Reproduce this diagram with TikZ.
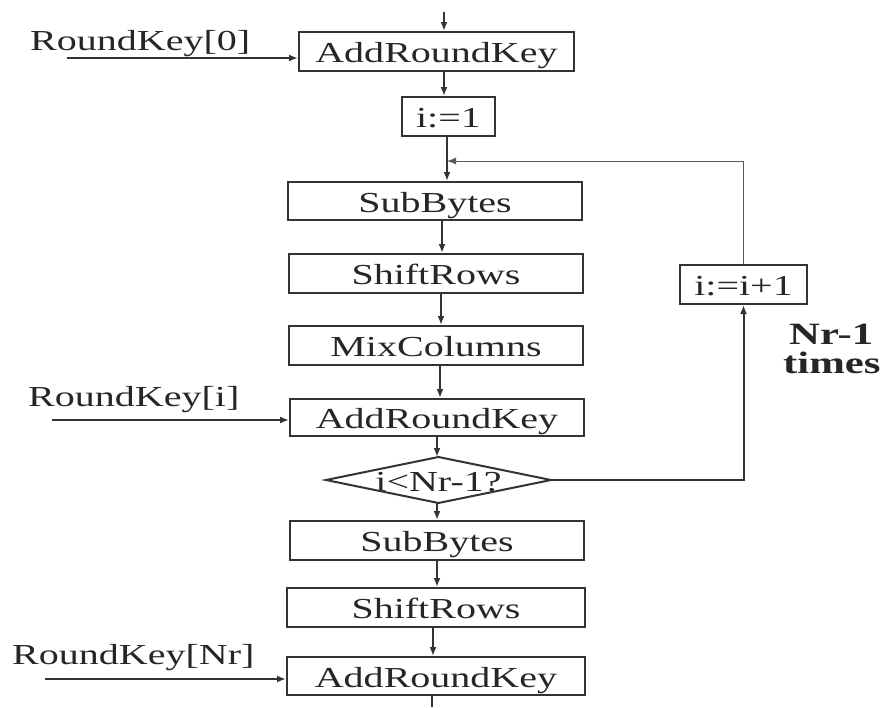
\documentclass[tikz,border=0pt]{standalone}
\usepackage{fontspec}
\setmainfont{Liberation Serif}[FakeStretch=1.38]
\usetikzlibrary{arrows.meta,positioning}

\tikzset{
  stage/.style={draw=black!80, line width=2pt, minimum width=294pt,
    minimum height=38pt, inner sep=0pt, text=black!85,
    text height=22pt, text depth=0pt,
    font=\fontsize{29}{31}\selectfont},
  flow/.style={draw=black!80, line width=2pt,
    -{Latex[length=9pt,width=7pt]}},
  back/.style={draw=black!65, line width=1pt,
    -{Latex[length=9pt,width=7pt]}},
  keytext/.style={anchor=base west, inner sep=0pt, text=black!85,
    font=\fontsize{29}{31}\selectfont}
}

\begin{document}
\begin{tikzpicture}[x=1pt,y=-1pt]
  \useasboundingbox (0,0) rectangle (885,707);

  % main column
  \node[stage, minimum width=275pt, minimum height=39pt] (ark0) at (436.5,51.5) {AddRoundKey};
  \node[stage, minimum width=93pt, minimum height=39pt] (init) at (448.5,116.5) {i:=1};
  \node[stage] (sb1) at (435,201) {SubBytes};
  \node[stage, minimum height=39pt] (sr1) at (436,273.5) {ShiftRows};
  \node[stage, minimum height=39pt] (mc) at (436,345.5) {MixColumns};
  \node[stage, minimum height=37pt] (ark1) at (437,417.5) {AddRoundKey};
  \node[stage, draw=none, minimum width=223pt, minimum height=44pt] (dia) at (438.5,480) {i<Nr-1?};
  \draw[draw=black!80, line width=2pt, line join=miter]
       (dia.west) -- (dia.north) -- (dia.east) -- (dia.south) -- cycle;
  \node[stage, minimum height=39pt] (sb2) at (437,540.5) {SubBytes};
  \node[stage, minimum width=298pt, minimum height=39pt] (sr2) at (436,607.5) {ShiftRows};
  \node[stage, minimum width=298pt] (ark2) at (436,676) {AddRoundKey};

  % loop counter
  \node[stage, minimum width=127pt, minimum height=39pt] (inc) at (743.5,284.5) {i:=i+1};
  \node[anchor=base west, inner sep=0pt, text=black!85,
        font=\bfseries\fontsize{31}{33}\selectfont] (nr) at (789,344) {Nr-1};
  \node[anchor=base west, inner sep=0pt, text=black!85,
        font=\bfseries\fontsize{31}{33}\selectfont] (times) at (783,373) {times};

  % round keys
  \node[keytext] (rk0) at (30,50) {RoundKey[0]};
  \node[keytext] (rki) at (28,406) {RoundKey[i]};
  \node[keytext] (rknr) at (12,664) {RoundKey[Nr]};
  \coordinate (k0) at (67,58);
  \coordinate (ki) at (52,420);
  \coordinate (knr) at (45,679);
  \draw[flow] (k0) -- (k0 -| ark0.west);
  \draw[flow] (ki) -- (ki -| ark1.west);
  \draw[flow] (knr) -- (knr -| ark2.west);

  % arrows down the column
  \coordinate (start) at (444,12);
  \coordinate (join) at (447,161);
  \coordinate (finish) at (432,707);
  \draw[flow] (start) -- (start |- ark0.north);
  \draw[flow] (ark0.south -| start) -- (init.north -| start);
  \draw[flow] (init.south -| join) -- (join |- sb1.north);
  \draw[flow] ([xshift=7pt]sb1.south) -- ([xshift=7pt]sb1.south |- sr1.north);
  \draw[flow] ([xshift=5pt]sr1.south) -- ([xshift=5pt]sr1.south |- mc.north);
  \draw[flow] ([xshift=4pt]mc.south) -- ([xshift=4pt]mc.south |- ark1.north);
  \draw[flow] (ark1.south) -- (ark1.south |- dia.north);
  \draw[flow] (dia.south -| ark1) -- (ark1 |- sb2.north);
  \draw[flow] (sb2.south) -- (sb2.south |- sr2.north);
  \draw[flow] ([xshift=-3pt]sr2.south) -- ([xshift=-3pt]sr2.south |- ark2.north);
  \draw[draw=black!80, line width=2pt] (ark2.south -| finish) -- (finish);

  % loop back
  \draw[flow] (dia.east) -| (inc.south);
  \draw[back] (inc.north) |- (join);
\end{tikzpicture}
\end{document}
